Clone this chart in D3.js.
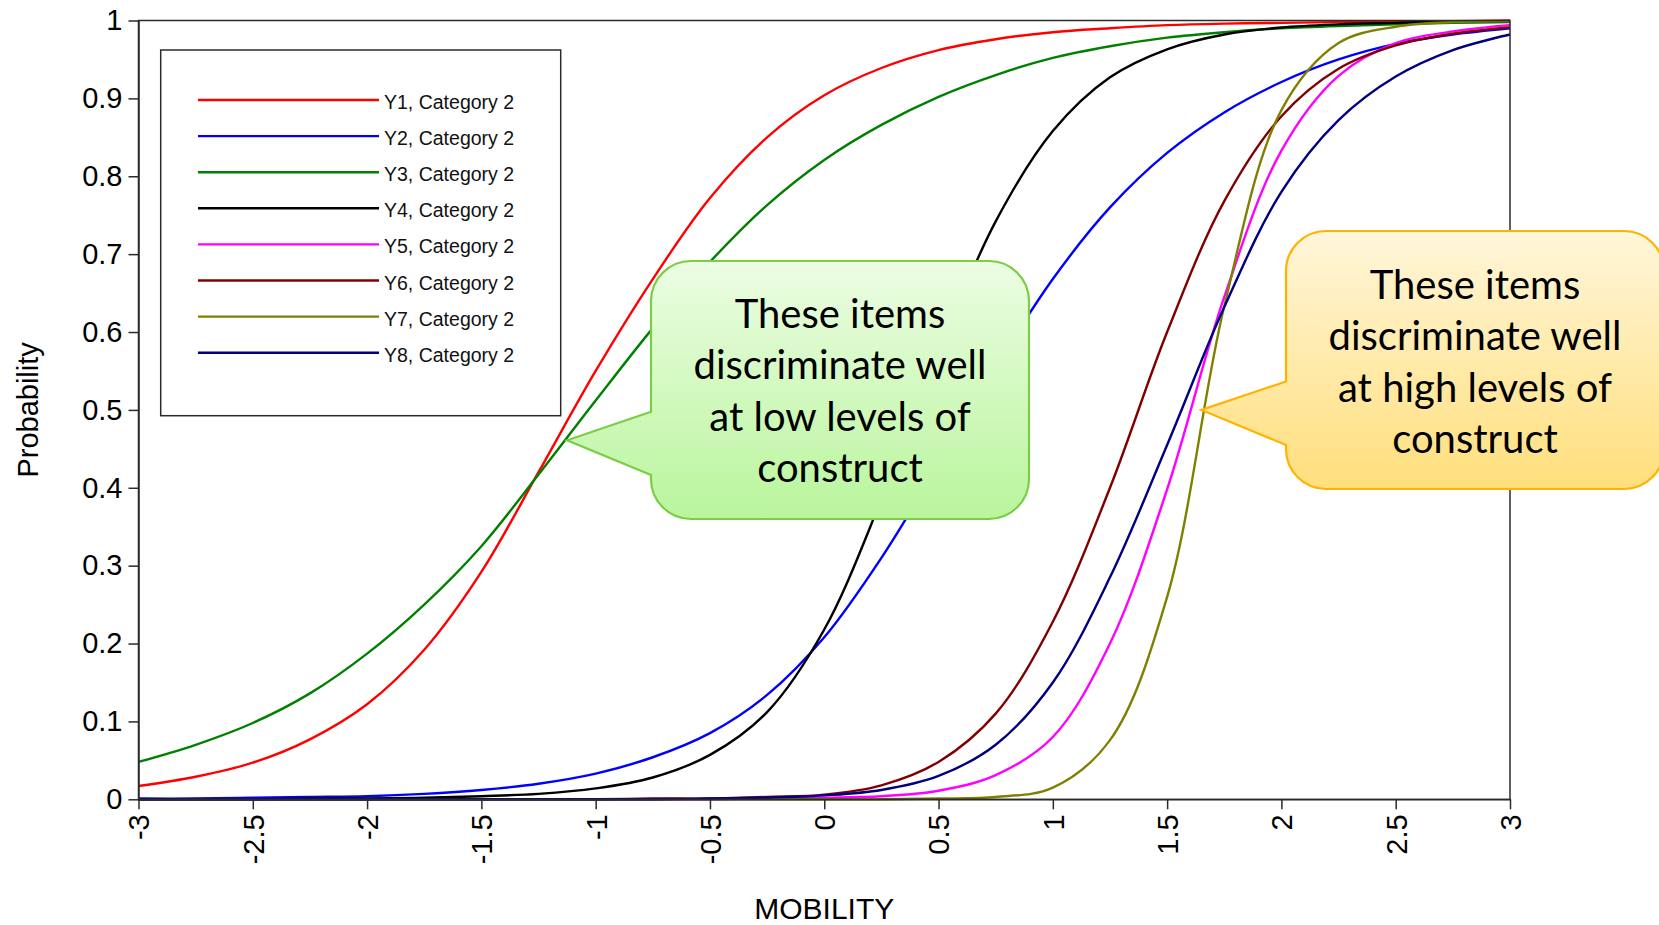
<!DOCTYPE html>
<html>
<head>
<meta charset="utf-8">
<script src="https://cdn.jsdelivr.net/npm/d3@7"></script>
<style>
  body { margin: 0; background: #ffffff; }
  svg { display: block; }
</style>
</head>
<body>
<svg id="chart" width="1659" height="925"></svg>
<script>
// Item characteristic curves: probability of responding in category 2 by MOBILITY level
const theta = [-3, -2.75, -2.5, -2.25, -2, -1.75, -1.5, -1.25, -1, -0.75, -0.5, -0.25,
               0, 0.25, 0.5, 0.75, 1, 1.25, 1.5, 1.75, 2, 2.25, 2.5, 2.75, 3];

const y1 = [0.017, 0.029, 0.047, 0.077, 0.122, 0.192, 0.292, 0.420, 0.550, 0.668, 0.772, 0.850,
            0.904, 0.939, 0.962, 0.976, 0.985, 0.990, 0.994, 0.996, 0.997, 0.998, 0.999, 0.999, 1.000];
const y2 = [0.001, 0.001, 0.002, 0.003, 0.004, 0.007, 0.012, 0.020, 0.033, 0.054, 0.085, 0.134,
            0.208, 0.310, 0.430, 0.555, 0.668, 0.760, 0.830, 0.882, 0.921, 0.950, 0.970, 0.982, 0.990];
const y3 = [0.048, 0.070, 0.098, 0.136, 0.187, 0.250, 0.325, 0.417, 0.512, 0.605, 0.690, 0.763,
            0.821, 0.866, 0.902, 0.930, 0.952, 0.967, 0.978, 0.985, 0.990, 0.993, 0.995, 0.997, 0.998];
const y4 = [0.000, 0.000, 0.000, 0.001, 0.001, 0.002, 0.004, 0.007, 0.014, 0.028, 0.057, 0.112,
            0.218, 0.385, 0.575, 0.742, 0.858, 0.927, 0.963, 0.982, 0.991, 0.995, 0.997, 0.999, 0.999];
const y5 = [0.000, 0.000, 0.000, 0.000, 0.000, 0.000, 0.000, 0.000, 0.000, 0.000, 0.000, 0.001,
            0.002, 0.004, 0.011, 0.031, 0.080, 0.200, 0.398, 0.645, 0.833, 0.929, 0.971, 0.986, 0.994];
const y6 = [0.000, 0.000, 0.000, 0.000, 0.000, 0.000, 0.000, 0.000, 0.000, 0.001, 0.001, 0.003,
            0.006, 0.018, 0.048, 0.110, 0.228, 0.400, 0.600, 0.768, 0.877, 0.938, 0.968, 0.983, 0.991];
const y7 = [0.000, 0.000, 0.000, 0.000, 0.000, 0.000, 0.000, 0.000, 0.000, 0.000, 0.000, 0.000,
            0.000, 0.000, 0.001, 0.003, 0.015, 0.076, 0.260, 0.633, 0.885, 0.971, 0.992, 0.998, 0.999];
const y8 = [0.000, 0.000, 0.000, 0.000, 0.000, 0.000, 0.000, 0.000, 0.000, 0.000, 0.001, 0.002,
            0.005, 0.012, 0.030, 0.070, 0.150, 0.285, 0.455, 0.632, 0.780, 0.872, 0.928, 0.962, 0.982];

const seriesNames = ["Y1, Category 2", "Y2, Category 2", "Y3, Category 2", "Y4, Category 2",
                     "Y5, Category 2", "Y6, Category 2", "Y7, Category 2", "Y8, Category 2"];
const seriesValues = [y1, y2, y3, y4, y5, y6, y7, y8];

const xTicks = [-3, -2.5, -2, -1.5, -1, -0.5, 0, 0.5, 1, 1.5, 2, 2.5, 3];
const yTicks = [0, 0.1, 0.2, 0.3, 0.4, 0.5, 0.6, 0.7, 0.8, 0.9, 1];
const yTickLabels = ["0", "0.1", "0.2", "0.3", "0.4", "0.5", "0.6", "0.7", "0.8", "0.9", "1"];

const xTitle = "MOBILITY";
const yTitle = "Probability";

const lowNote = ["These items", "discriminate well", "at low levels of", "construct"];
const highNote = ["These items", "discriminate well", "at high levels of", "construct"];
// points on the curves that each note points at (MOBILITY, probability)
const lowNoteTarget = [-1.125, 0.461];
const highNoteTarget = [1.65, 0.5];

// ---- styling ----
const colors = ["#ff0000", "#0000ff", "#008000", "#000000", "#ff00ff", "#800000", "#808000", "#000080"];
const axisFont = "'Liberation Sans', Arial, sans-serif";
const noteFont = "Lato, 'Open Sans', sans-serif";

const svg = d3.select("#chart");
const W = 1659, H = 925;
svg.append("rect").attr("width", W).attr("height", H).attr("fill", "#fff");

const plot = { left: 138.5, right: 1510, top: 20.5, bottom: 799.3 };

const x = d3.scaleLinear().domain([-3, 3]).range([plot.left, plot.right]);
const y = d3.scaleLinear().domain([0, 1]).range([plot.bottom, plot.top]);

// curves
const line = d3.line()
  .x((d, i) => x(theta[i]))
  .y(d => y(d))
  .curve(d3.curveCatmullRom.alpha(0.5));

svg.append("g")
  .selectAll("path")
  .data(seriesValues)
  .join("path")
  .attr("d", d => line(d))
  .attr("fill", "none")
  .attr("stroke", (d, i) => colors[i])
  .attr("stroke-width", 2.4)
  .attr("stroke-linejoin", "round");

// plot frame
svg.append("rect")
  .attr("x", plot.left).attr("y", plot.top)
  .attr("width", plot.right - plot.left).attr("height", plot.bottom - plot.top)
  .attr("fill", "none").attr("stroke", "#2b2b2b").attr("stroke-width", 1.5);

// y axis
const yAxis = svg.append("g")
  .attr("transform", `translate(${plot.left},0)`)
  .call(d3.axisLeft(y).tickValues(yTicks).tickSize(10).tickSizeOuter(0).tickPadding(6)
        .tickFormat((d, i) => yTickLabels[i]));
yAxis.select(".domain").attr("stroke", "#2b2b2b").attr("stroke-width", 1.5);
yAxis.selectAll(".tick line").attr("stroke", "#2b2b2b").attr("stroke-width", 1.5);
yAxis.selectAll(".tick text")
  .attr("font-family", axisFont).attr("font-size", 29).attr("fill", "#000");

// x axis with vertical labels
const xAxis = svg.append("g")
  .attr("transform", `translate(0,${plot.bottom})`)
  .call(d3.axisBottom(x).tickValues(xTicks).tickSize(10).tickSizeOuter(0)
        .tickFormat(d3.format("~g")));
xAxis.select(".domain").attr("stroke", "#2b2b2b").attr("stroke-width", 1.5);
xAxis.selectAll(".tick line").attr("stroke", "#2b2b2b").attr("stroke-width", 1.5);
xAxis.selectAll(".tick text")
  .attr("font-family", axisFont).attr("font-size", 29).attr("fill", "#000")
  .attr("transform", "rotate(-90)")
  .attr("text-anchor", "end")
  .attr("x", -15).attr("y", 0).attr("dy", "0.36em")
  .text(d => d3.format("~g")(d).replace("\u2212", "-"));

// axis titles
svg.append("text")
  .attr("x", (plot.left + plot.right) / 2).attr("y", 908)
  .attr("text-anchor", "middle").attr("dominant-baseline", "central")
  .attr("font-family", axisFont).attr("font-size", 30).attr("fill", "#000")
  .text(xTitle);
svg.append("text")
  .attr("transform", `translate(28,${(plot.top + plot.bottom) / 2}) rotate(-90)`)
  .attr("text-anchor", "middle").attr("dominant-baseline", "central")
  .attr("font-family", axisFont).attr("font-size", 29).attr("fill", "#000")
  .text(yTitle);

// legend
const legend = svg.append("g");
legend.append("rect")
  .attr("x", 160.7).attr("y", 50).attr("width", 400).attr("height", 365.7)
  .attr("fill", "#fff").attr("stroke", "#2b2b2b").attr("stroke-width", 1.5);
const rows = legend.selectAll("g.row").data(seriesNames).join("g")
  .attr("class", "row")
  .attr("transform", (d, i) => `translate(0,${100 + i * 36.1})`);
rows.append("line")
  .attr("x1", 198).attr("x2", 379).attr("y1", 0).attr("y2", 0)
  .attr("stroke", (d, i) => colors[i]).attr("stroke-width", 2.4);
rows.append("text")
  .attr("x", 384).attr("y", 2).attr("dominant-baseline", "central")
  .attr("font-family", axisFont).attr("font-size", 19.5).attr("fill", "#111")
  .text(d => d);

// callout notes
const defs = svg.append("defs");
function gradient(id, top, bottom) {
  const g = defs.append("linearGradient").attr("id", id)
    .attr("x1", 0).attr("y1", 0).attr("x2", 0).attr("y2", 1);
  g.append("stop").attr("offset", "0%").attr("stop-color", top);
  g.append("stop").attr("offset", "100%").attr("stop-color", bottom);
}
gradient("gradLow", "#ecfde3", "#b9f59c");
gradient("gradHigh", "#fff6da", "#ffdf7c");

function callout(box, pointerTop, pointerBottom, target, fill, stroke, lines, cx, firstLineY) {
  const [x0, y0, x1, y1] = box;
  const r = 40;
  const tx = x(target[0]), ty = y(target[1]);
  const p = d3.path();
  p.moveTo(x0 + r, y0);
  p.lineTo(x1 - r, y0);
  p.arcTo(x1, y0, x1, y0 + r, r);
  p.lineTo(x1, y1 - r);
  p.arcTo(x1, y1, x1 - r, y1, r);
  p.lineTo(x0 + r, y1);
  p.arcTo(x0, y1, x0, y1 - r, r);
  p.lineTo(x0, pointerBottom);
  p.lineTo(tx, ty);
  p.lineTo(x0, pointerTop);
  p.lineTo(x0, y0 + r);
  p.arcTo(x0, y0, x0 + r, y0, r);
  p.closePath();
  const g = svg.append("g");
  g.append("path").attr("d", p.toString())
    .attr("fill", fill).attr("stroke", stroke).attr("stroke-width", 2.2)
    .attr("stroke-linejoin", "miter");
  g.selectAll("text").data(lines).join("text")
    .attr("x", cx).attr("y", (d, i) => firstLineY + i * 51.3)
    .attr("text-anchor", "middle").attr("dominant-baseline", "central")
    .attr("font-family", noteFont).attr("font-size", 40).attr("fill", "#000")
    .text(d => d);
}

callout([651, 261, 1029, 519], 411.7, 475, lowNoteTarget,
        "url(#gradLow)", "#7ccc45", lowNote, 840, 313);
callout([1286, 231, 1664, 489], 381.5, 445, highNoteTarget,
        "url(#gradHigh)", "#ffb300", highNote, 1475, 284);
</script>
</body>
</html>
